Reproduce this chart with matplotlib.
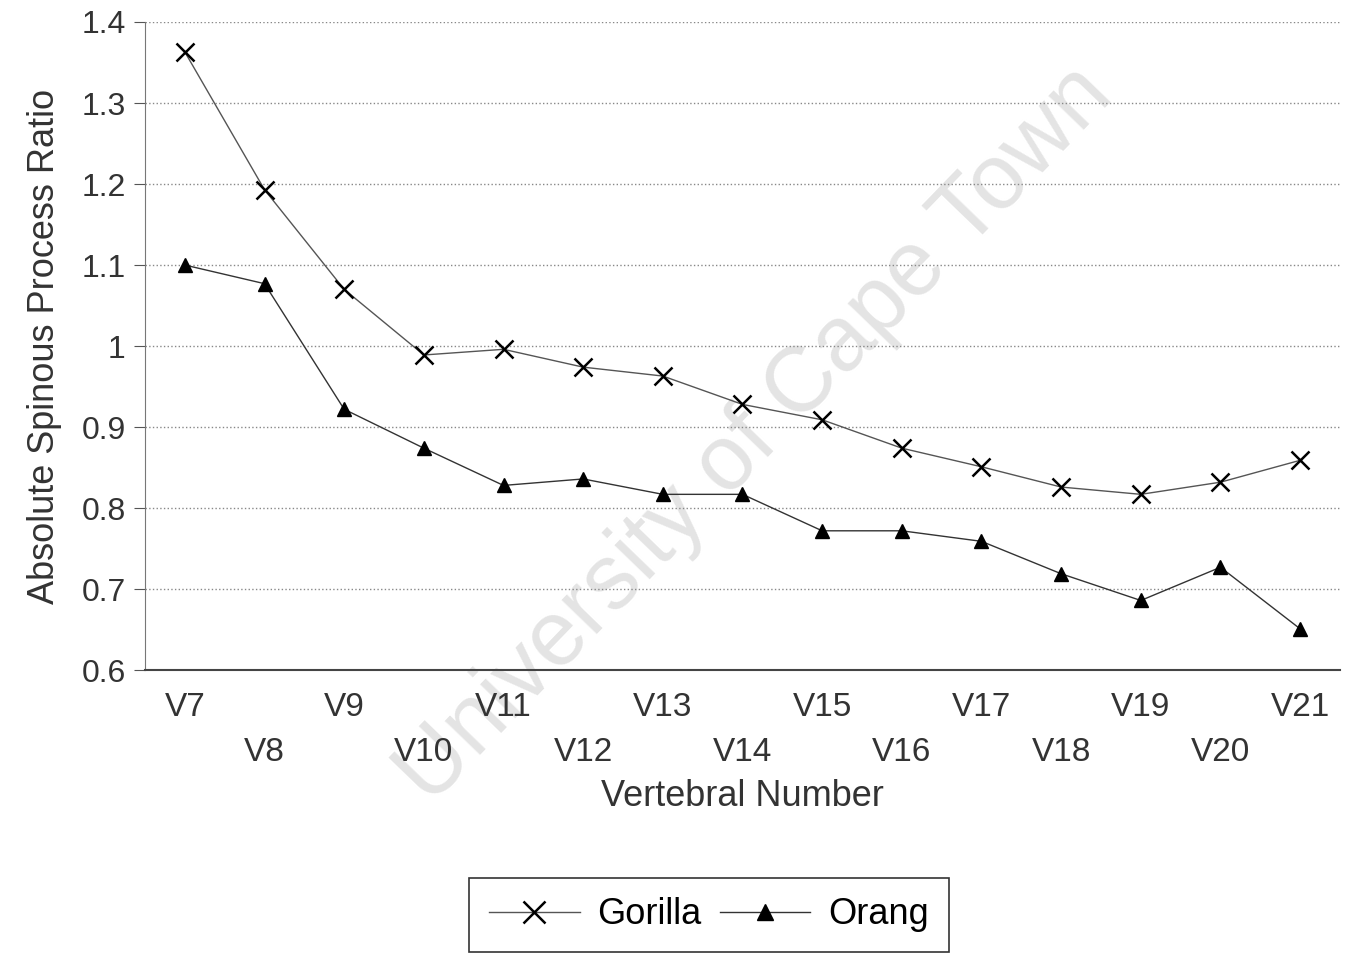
import matplotlib.pyplot as plt

plt.rcParams['font.family'] = ['Liberation Sans', 'DejaVu Sans']

vertebrae = ["V7", "V8", "V9", "V10", "V11", "V12", "V13", "V14",
             "V15", "V16", "V17", "V18", "V19", "V20", "V21"]
gorilla = [1.363, 1.193, 1.070, 0.989, 0.996, 0.974, 0.963, 0.928,
           0.909, 0.874, 0.851, 0.826, 0.817, 0.832, 0.859]
orang = [1.100, 1.077, 0.922, 0.874, 0.828, 0.836, 0.817, 0.817,
         0.772, 0.772, 0.759, 0.719, 0.686, 0.727, 0.651]
y_ticks = [0.6, 0.7, 0.8, 0.9, 1.0, 1.1, 1.2, 1.3, 1.4]
y_labels = ["0.6", "0.7", "0.8", "0.9", "1", "1.1", "1.2", "1.3", "1.4"]

fig = plt.figure(figsize=(13.49, 9.56), dpi=100)
ax = fig.add_axes([0.1075, 0.299, 0.8858, 0.678])
ax.patch.set_alpha(0)  # let the watermark show under the plot

x = range(len(vertebrae))
ax.plot(x, gorilla, color='#555555', lw=1, marker='x', ms=13, mew=1.8,
        mec='black', label='Gorilla', zorder=3)
ax.plot(x, orang, color='#333333', lw=1, marker='^', ms=10,
        mfc='black', mec='black', label='Orang', zorder=3)

ax.set_xlim(-0.5, len(vertebrae) - 0.5)
ax.set_ylim(0.6, 1.4)
ax.set_yticks(y_ticks)
ax.set_yticklabels(y_labels, fontsize=23, color='#333333')

# staggered category labels
ax.set_xticks(list(x))
labels = [v if i % 2 == 0 else "\n" + v for i, v in enumerate(vertebrae)]
ax.set_xticklabels(labels, fontsize=24, color='#333333', linespacing=1.55)
ax.tick_params(axis='x', length=0, pad=16)
ax.tick_params(axis='y', length=8, direction='out', color='#555555', pad=6)

ax.yaxis.grid(True, linestyle=':', color='#888888', lw=1)
ax.set_axisbelow(True)
for s in ['top', 'right']:
    ax.spines[s].set_visible(False)
ax.spines['left'].set_color('#777777')
ax.spines['bottom'].set_color('#444444')
ax.spines['bottom'].set_linewidth(1.5)

ax.set_xlabel("Vertebral Number", fontsize=26, color='#333333', labelpad=8)
ax.set_ylabel("Absolute Spinous Process Ratio", fontsize=26, color='#333333', labelpad=14)

fig.text(0.56, 0.545, "University of Cape Town", fontsize=66, color='#e4e4e4',
         rotation=46, ha='center', va='center', zorder=-1)

leg = fig.legend(loc='upper center', bbox_to_anchor=(0.5256, 0.082), ncol=2,
                 fontsize=26, frameon=True, fancybox=False, edgecolor='black',
                 borderpad=0.55, borderaxespad=0, handlelength=2.5,
                 columnspacing=0.5, handletextpad=0.5, markerscale=1.2)
leg.get_frame().set_linewidth(1.2)

fig.savefig("out.png", dpi=100)
